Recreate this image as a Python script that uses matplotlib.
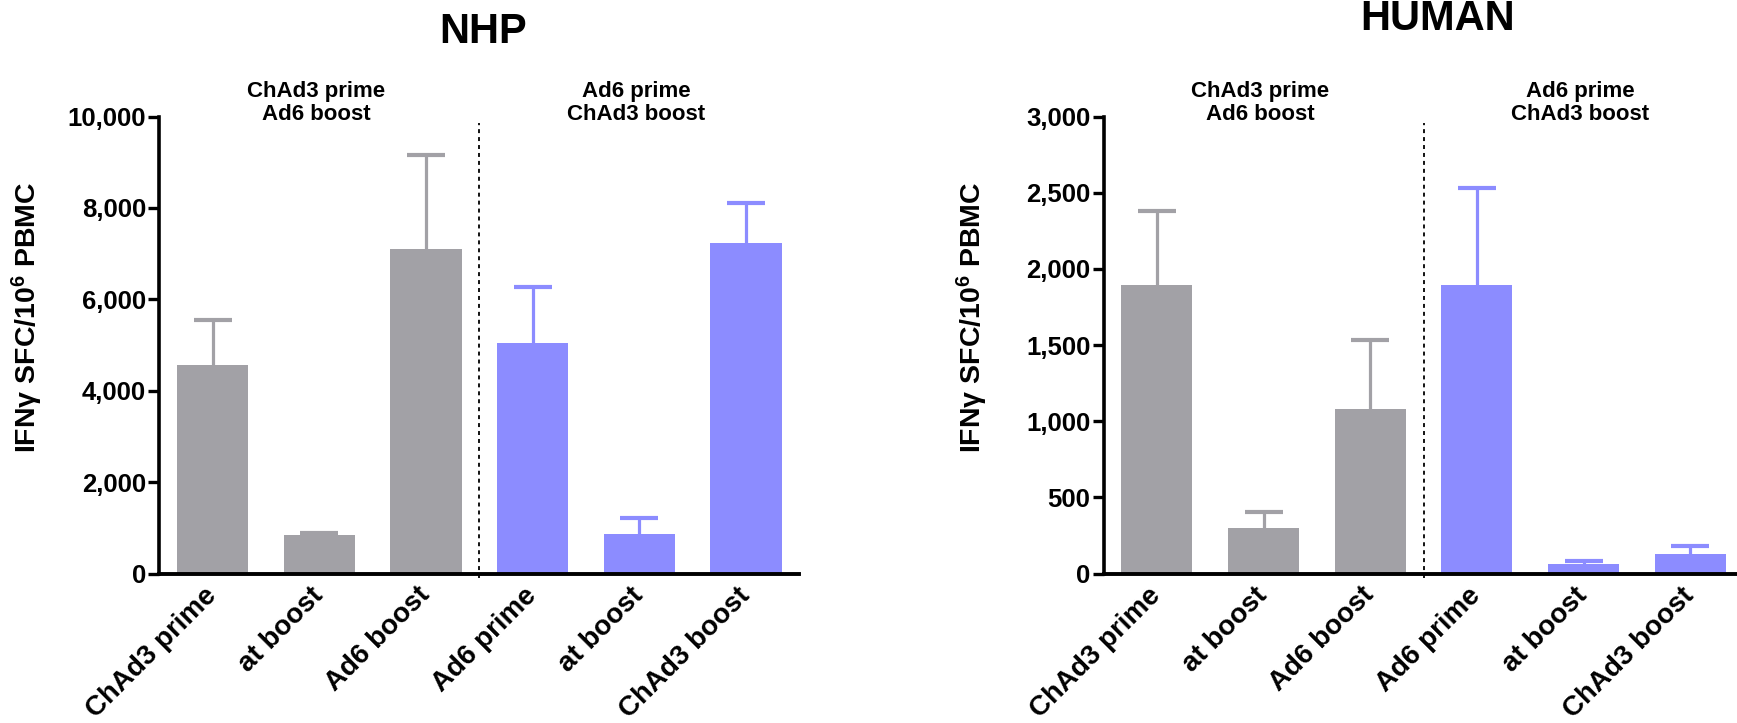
import numpy as np
import matplotlib
matplotlib.use("Agg")
import matplotlib.pyplot as plt
from matplotlib.ticker import FuncFormatter

# values (IFNg SFC / 10^6 PBMC), mean and upper SEM
labels = ["ChAd3 prime", "at boost", "Ad6 boost", "Ad6 prime", "at boost", "ChAd3 boost"]
group_labels = ["ChAd3 prime\nAd6 boost", "Ad6 prime\nChAd3 boost"]

nhp_mean = [4558, 840, 7090, 5050, 862, 7242]
nhp_err = [998, 52, 2063, 1224, 355, 861]

human_mean = [1892, 296, 1078, 1892, 61, 131]
human_err = [489, 109, 455, 638, 18, 52]

colors = ["#a2a1a6"] * 3 + ["#8c8cff"] * 3

plt.rcParams['font.family'] = ['Liberation Sans', 'DejaVu Sans']
plt.rcParams['font.weight'] = 'bold'
plt.rcParams['mathtext.default'] = 'regular'

W, H = 1737.0, 723.0
fig = plt.figure(figsize=(W / 100, H / 100), dpi=100)


def panel(left_px, mean, err, ymax, ystep, title, title_xy):
    ax = fig.add_axes([left_px / W, (H - 573.5) / H, 640 / W, 457 / H])
    x = np.arange(len(mean))
    for i in x:
        ax.bar(i, mean[i], width=0.667, color=colors[i], edgecolor='none', zorder=2)
        # upper error bar only: stem + cap
        ax.vlines(i, mean[i], mean[i] + err[i], color=colors[i], lw=2.3, zorder=1)
        ax.plot(i, mean[i] + err[i], marker='_', ms=27, mew=3.0, color=colors[i], zorder=1)
    ax.axvline(2.5, ymin=-0.01, ymax=0.985, color='black', lw=1.3,
               linestyle=(0, (2.2, 2.2)), clip_on=False, zorder=3)
    ax.set_xlim(-0.5, 5.5)
    ax.set_ylim(0, ymax)
    ax.set_yticks(np.arange(0, ymax + 1, ystep))
    ax.yaxis.set_major_formatter(FuncFormatter(lambda v, p: f"{int(v):,}"))
    ax.set_xticks(x)
    ax.set_xticklabels(labels, rotation=45, ha='right', va='center',
                       rotation_mode='anchor', fontsize=20, fontweight='bold')
    ax.tick_params(axis='x', length=0, pad=13)
    ax.tick_params(axis='y', length=8, width=2.4, pad=1.5, labelsize=18.5)
    for s in ['top', 'right']:
        ax.spines[s].set_visible(False)
    ax.spines['left'].set_linewidth(2.6)
    ax.spines['bottom'].set_linewidth(2.8)
    ax.set_ylabel(r"IFNγ SFC/10$^{6}$ PBMC", fontsize=20.5, fontweight='bold')
    ax.yaxis.set_label_coords(-0.178, 0.56)
    ax.text(0.97, 1.03, group_labels[0], transform=ax.get_xaxis_transform(),
            ha='center', va='center', fontsize=16, fontweight='bold', linespacing=1.15)
    ax.text(3.97, 1.03, group_labels[1], transform=ax.get_xaxis_transform(),
            ha='center', va='center', fontsize=16, fontweight='bold', linespacing=1.15)
    fig.text(title_xy[0] / W, 1 - title_xy[1] / H, title, ha='center', va='center',
             fontsize=30, fontweight='bold')
    return ax


panel(159.3, nhp_mean, nhp_err, 10000, 2000, "NHP", (483, 32))
panel(1103.5, human_mean, human_err, 3000, 500, "HUMAN", (1438, 19))

fig.savefig("out.png", dpi=100)
